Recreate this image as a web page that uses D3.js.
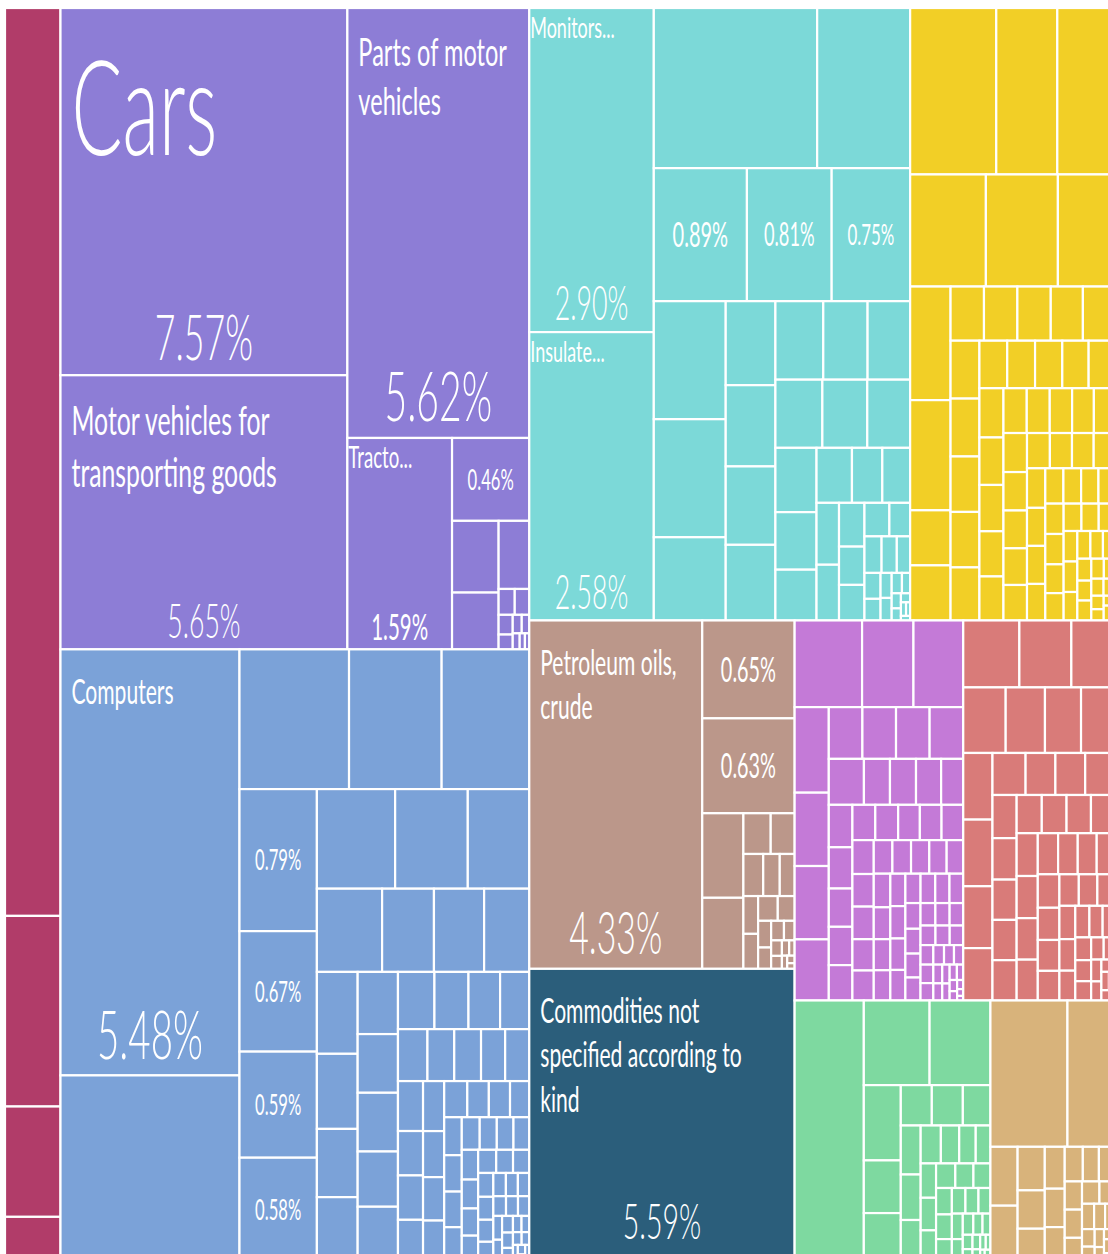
<!DOCTYPE html>
<html>
<head>
<meta charset="utf-8">
<script src="https://cdn.jsdelivr.net/npm/d3@7"></script>
<style>
  body { margin: 0; background: #fff; }
  svg { display: block; }
  text { font-family: Lato, "Open Sans", sans-serif; font-weight: 300; fill: #fff; }
  text.name, text.small { font-weight: 400; }
  text.name.big { font-weight: 300; }
</style>
</head>
<body>
<svg id="chart"></svg>
<script>
// export shares (% of total), one list per sector
var sectors = ['Services', 'Vehicles', 'Machinery', 'Electronics', 'Agriculture', 'Minerals', 'Other', 'Chemicals', 'Metals', 'Textiles', 'Stone'];

var servicesValues = [3.62, 0.76, 0.44, 0.18];
var vehiclesValues = [7.57, 5.65, 5.62, 1.59, 0.46, 0.24, 0.19, 0.15, 0.03, 0.027, 0.02, 0.015, 0.012, 0.01, 0.008, 0.006, 0.005];
var machineryValues = [5.48, 2.40, 1.10, 0.93, 0.88, 0.79, 0.67, 0.59, 0.58, 0.56, 0.52, 0.44, 0.39, 0.31, 0.30, 0.27,
    0.24, 0.22, 0.20, 0.19, 0.18, 0.17, 0.17, 0.16, 0.16, 0.15, 0.14, 0.13, 0.12, 0.11, 0.10, 0.10, 0.09, 0.09, 0.09,
    0.08, 0.08, 0.076, 0.076, 0.07, 0.066, 0.063, 0.06, 0.056, 0.055, 0.05, 0.048, 0.046, 0.045, 0.044, 0.042, 0.04,
    0.039, 0.037, 0.035, 0.034, 0.032, 0.031, 0.03, 0.028, 0.027, 0.026, 0.025, 0.024, 0.022, 0.021, 0.02, 0.019,
    0.018, 0.017, 0.016, 0.015, 0.014, 0.013, 0.012, 0.011, 0.01, 0.009, 0.008, 0.007, 0.006, 0.005, 0.004, 0.003, 0.002];
var electronicsValues = [2.90, 2.58, 1.88, 1.07, 0.89, 0.81, 0.75, 0.61, 0.61, 0.43, 0.30, 0.29, 0.28, 0.27, 0.27, 0.25,
    0.24, 0.23, 0.22, 0.21, 0.19, 0.17, 0.15, 0.14, 0.12, 0.11, 0.10, 0.09, 0.08, 0.07, 0.065, 0.06, 0.05, 0.045, 0.04,
    0.035, 0.03, 0.025, 0.02, 0.018, 0.015, 0.012, 0.01, 0.008, 0.006, 0.005, 0.004, 0.003];
var agricultureValues = [1.03, 0.73, 0.69, 0.61, 0.58, 0.46, 0.33, 0.32, 0.16, 0.16, 0.13, 0.13, 0.13, 0.125, 0.125, 0.12,
    0.12, 0.115, 0.115, 0.11, 0.095, 0.095, 0.093, 0.09, 0.09, 0.085, 0.082, 0.08, 0.078, 0.076, 0.075, 0.074, 0.072,
    0.07, 0.068, 0.066, 0.065, 0.064, 0.062, 0.06, 0.058, 0.056, 0.055, 0.054, 0.052, 0.05, 0.05, 0.048, 0.046, 0.045,
    0.044, 0.042, 0.04, 0.04, 0.038, 0.036, 0.035, 0.034, 0.032, 0.03, 0.03, 0.028, 0.026, 0.025, 0.024, 0.022, 0.02,
    0.02, 0.018, 0.016, 0.015, 0.014, 0.012, 0.01, 0.008, 0.006, 0.004, 0.002];
var mineralsValues = [4.33, 0.65, 0.63, 0.25, 0.21, 0.08, 0.07, 0.06, 0.05, 0.045, 0.04, 0.037, 0.035, 0.03, 0.025, 0.02,
    0.018, 0.015, 0.012, 0.01, 0.008, 0.006, 0.005, 0.004, 0.003];
var otherValues = [5.59];
var chemicalsValues = [0.42, 0.32, 0.31, 0.21, 0.18, 0.18, 0.15, 0.125, 0.125, 0.125, 0.125, 0.116, 0.086, 0.086, 0.083,
    0.073, 0.072, 0.07, 0.065, 0.065, 0.06, 0.058, 0.058, 0.055, 0.055, 0.055, 0.052, 0.05, 0.05, 0.048, 0.046, 0.045,
    0.045, 0.044, 0.042, 0.04, 0.04, 0.038, 0.037, 0.036, 0.035, 0.035, 0.034, 0.033, 0.032, 0.031, 0.03, 0.029, 0.028,
    0.027, 0.026, 0.025, 0.024, 0.023, 0.022, 0.021, 0.02, 0.019, 0.018, 0.017, 0.016, 0.015, 0.014, 0.013, 0.012,
    0.011, 0.01, 0.009, 0.008, 0.007, 0.006, 0.005, 0.004, 0.003, 0.002];
var metalsValues = [0.27, 0.25, 0.21, 0.20, 0.185, 0.17, 0.16, 0.14, 0.14, 0.13, 0.11, 0.10, 0.09, 0.09, 0.09, 0.075,
    0.072, 0.07, 0.07, 0.07, 0.069, 0.068, 0.067, 0.066, 0.065, 0.064, 0.063, 0.062, 0.06, 0.058, 0.056, 0.054, 0.052,
    0.05, 0.048, 0.046, 0.044, 0.042, 0.04, 0.038, 0.036, 0.034, 0.032, 0.03, 0.028, 0.026, 0.024, 0.022, 0.02, 0.018,
    0.016, 0.014, 0.012, 0.01, 0.008, 0.006, 0.004];
var textilesValues = [1.30, 0.40, 0.37, 0.20, 0.14, 0.13, 0.09, 0.09, 0.08, 0.07, 0.065, 0.06, 0.055, 0.05, 0.045, 0.04,
    0.038, 0.036, 0.035, 0.034, 0.032, 0.03, 0.03, 0.028, 0.026, 0.025, 0.024, 0.022, 0.02, 0.018, 0.016, 0.014, 0.012,
    0.01, 0.009, 0.008, 0.007, 0.006, 0.005, 0.004, 0.003, 0.002];
var stoneValues = [0.81, 0.50, 0.115, 0.11, 0.085, 0.075, 0.065, 0.06, 0.055, 0.05, 0.045, 0.04, 0.04, 0.035, 0.035, 0.03,
    0.028, 0.025, 0.022, 0.02, 0.018, 0.016, 0.014, 0.012, 0.01, 0.008, 0.006, 0.005, 0.004, 0.003];

// product names, same order as the values ('' = tile shows only its share)
var vehiclesNames = ['Cars', 'Motor vehicles for transporting goods', 'Parts of motor vehicles', 'Tractors', ''];
var machineryNames = ['Computers', null, null, null, null, '', '', '', ''];
var electronicsNames = ['Monitors and projectors', 'Insulated wire', null, null, '', '', ''];
var mineralsNames = ['Petroleum oils, crude', '', ''];
var otherNames = ['Commodities not specified according to kind'];

var sectorValues = [servicesValues, vehiclesValues, machineryValues, electronicsValues, agricultureValues,
    mineralsValues, otherValues, chemicalsValues, metalsValues, textilesValues, stoneValues];
var sectorNames = [[], vehiclesNames, machineryNames, electronicsNames, [], mineralsNames, otherNames, [], [], [], []];

// styles
var colors = {
    Services: '#b13c69', Vehicles: '#8d7dd6', Machinery: '#7ba2d8', Electronics: '#7cd9d8',
    Agriculture: '#f2cf26', Minerals: '#bb978a', Other: '#2b5e7b', Chemicals: '#c47ad7',
    Metals: '#d97b79', Textiles: '#7ed9a0', Stone: '#d8b37b'
};
var nameSizes = {
    'Cars': 132, 'Parts of motor vehicles': 38, 'Motor vehicles for transporting goods': 40,
    'Computers': 34, 'Petroleum oils, crude': 34, 'Commodities not specified according to kind': 34,
    'Monitors and projectors': 29, 'Insulated wire': 29, 'Tractors': 30
};
var shortNames = { 'Tractors': 'Tracto...', 'Monitors and projectors': 'Monitors...', 'Insulated wire': 'Insulate...' };

var width = 1108, height = 1254;
var area = { x0: 5, y0: 8, x1: 1115, y1: 1262 };
var stretch = 1.75;      // layout is computed wide, then squeezed horizontally
var nameSqueeze = 0.62;  // horizontal squeeze of the product names

var svg = d3.select('#chart').attr('width', width).attr('height', height);

var data = {
    name: 'root',
    children: sectors.map(function(s, i) {
        return {
            name: s,
            children: sectorValues[i].map(function(v, j) {
                var n = sectorNames[i][j];
                return { name: n === undefined ? null : n, value: v };
            })
        };
    })
};

var root = d3.hierarchy(data)
    .sum(function(d) { return d.children ? 0 : d.value; })
    .sort(function(a, b) { return a.depth === 1 ? 0 : b.value - a.value; });

var squarify = d3.treemapSquarify.ratio(1);

// services take a full-height strip on the left, everything else is squarified
function tile(node, x0, y0, x1, y1) {
    if (node.depth > 0) {
        squarify(node, x0, y0, x1, y1);
        return;
    }
    var strip = node.children[0];
    var rest = node.children.slice(1);
    var xs = x0 + (x1 - x0) * strip.value / node.value;
    d3.treemapSlice({ children: [strip], value: strip.value }, x0, y0, xs, y1);
    squarify({ children: rest, value: node.value - strip.value }, xs, y0, x1, y1);
}

var layoutW = (area.x1 - area.x0) * stretch, layoutH = area.y1 - area.y0;
d3.treemap().tile(tile).size([layoutW, layoutH])(root);

var sx = d3.scaleLinear().domain([0, layoutW]).range([area.x0, area.x1]);
var sy = d3.scaleLinear().domain([0, layoutH]).range([area.y0, area.y1]);

var leaves = root.leaves();

svg.append('g')
    .selectAll('rect')
    .data(leaves)
    .enter()
    .append('rect')
    .attr('x', function(d) { return sx(d.x0); })
    .attr('y', function(d) { return sy(d.y0); })
    .attr('width', function(d) { return Math.max(0, sx(d.x1) - sx(d.x0)); })
    .attr('height', function(d) { return Math.max(0, sy(d.y1) - sy(d.y0)); })
    .attr('fill', function(d) { return colors[d.parent.data.name]; })
    .attr('stroke', '#fff')
    .attr('stroke-width', 2.2);

var labelGroup = svg.append('g');

// measure a string at a font size, in squeezed screen pixels
var probe = labelGroup.append('text').attr('class', 'name').attr('opacity', 0);
function textWidth(str, size) {
    probe.style('font-size', size + 'px').text(str);
    return probe.node().getComputedTextLength() * nameSqueeze;
}

function wrap(str, size, maxW) {
    var words = str.split(' ');
    var lines = [];
    var line = words[0];
    for (var i = 1; i < words.length; i++) {
        var test = line + ' ' + words[i];
        if (textWidth(test, size) > maxW) {
            lines.push(line);
            line = words[i];
        } else {
            line = test;
        }
    }
    lines.push(line);
    return lines;
}

leaves.filter(function(d) { return d.data.name !== null; }).forEach(function(d) {
    var x0 = sx(d.x0), x1 = sx(d.x1), y0 = sy(d.y0), y1 = sy(d.y1);
    var w = x1 - x0, h = y1 - y0;
    var share = d.data.value.toFixed(2) + '%';

    if (d.data.name === '') {
        var fs = Math.min(w * stretch * 0.215, h * 0.4);
        labelGroup.append('text')
            .attr('class', 'small')
            .attr('transform', `translate(${(x0 + x1) / 2}, ${(y0 + y1) / 2}) scale(${1 / stretch}, 1)`)
            .attr('text-anchor', 'middle')
            .attr('dy', '0.35em')
            .style('font-size', fs + 'px')
            .text(share);
        return;
    }

    var full = d.data.name;
    var label = shortNames[full] || full;
    var nfs = nameSizes[full];
    var big = nfs > 100;
    var squeeze = big ? 1 / stretch : nameSqueeze;
    var padX = shortNames[full] ? 1 : 11;
    var padY = shortNames[full] ? 2 : 22;
    var lines = wrap(label, nfs, w - 2 * padX);
    var t = labelGroup.append('text')
        .attr('class', big ? 'name big' : 'name')
        .attr('transform', `translate(${x0 + padX}, ${y0 + padY}) scale(${squeeze}, 1)`)
        .style('font-size', nfs + 'px');
    lines.forEach(function(ln, i) {
        t.append('tspan').attr('x', 0).attr('y', nfs * 0.95 + i * nfs * 1.3).text(ln);
    });

    var pfs = Math.min(w * stretch * 0.215, h * 0.17);
    // keep the share inside the picture when the tile runs past the bottom edge
    var baseY = Math.min(y1 - pfs * 0.25, height - pfs * 0.3);
    labelGroup.append('text')
        .attr('class', pfs < 40 ? 'small' : null)
        .attr('transform', `translate(${(x0 + x1) / 2}, ${baseY}) scale(${1 / stretch}, 1)`)
        .attr('text-anchor', 'middle')
        .style('font-size', pfs + 'px')
        .text(share);
});

probe.remove();
</script>
</body>
</html>
